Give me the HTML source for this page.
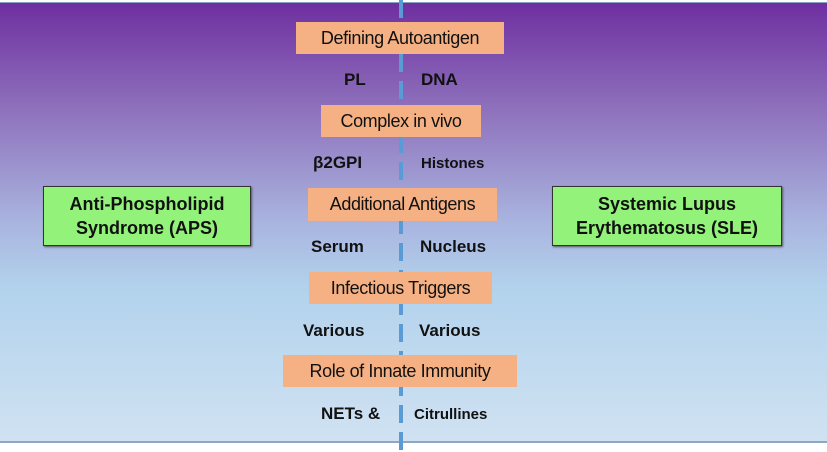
<!DOCTYPE html>
<html><head><style>
body{margin:0;width:827px;height:452px;background:#fff;position:relative;overflow:hidden;font-family:"Liberation Sans",sans-serif}
#bg{position:absolute;left:0;top:2px;width:827px;height:438px;background:linear-gradient(#6e2fa0 0%,#8f73bd 25%,#a9b4df 50%,#b2d2ec 65%,#d0e2f2 100%);border-top:1px solid #8aa0c0;border-bottom:2px solid #8fa6c4}
.o{position:absolute;z-index:2;background:#f5b183;color:#111;font-size:18px;display:flex;align-items:center;justify-content:center;letter-spacing:-0.4px}
.g{position:absolute;background:#92f27a;border:1px solid #333;box-shadow:1px 1px 2px #555;font-weight:bold;font-size:18px;text-align:center;line-height:24px;display:flex;align-items:center;justify-content:center;color:#111}
.t{position:absolute;font-weight:bold;color:#111;font-size:17px}
.s{font-size:15px}
</style></head><body>
<div id="bg"></div>
<svg style="position:absolute;left:0;top:0;z-index:1" width="827" height="452"><line x1="401" y1="0" x2="401" y2="452" stroke="#5b9bd5" stroke-width="4" stroke-dasharray="18,9"/></svg>
<div class="o" style="left:296px;top:22px;width:208px;height:32px">Defining Autoantigen</div>
<div class="o" style="left:321px;top:105px;width:160px;height:32px">Complex in vivo</div>
<div class="o" style="left:308px;top:188px;width:189px;height:33px">Additional Antigens</div>
<div class="o" style="left:309px;top:272px;width:183px;height:32px">Infectious Triggers</div>
<div class="o" style="left:283px;top:355px;width:234px;height:32px">Role of Innate Immunity</div>
<div class="g" style="left:43px;top:186px;width:206px;height:58px">Anti-Phospholipid<br>Syndrome (APS)</div>
<div class="g" style="left:552px;top:186px;width:228px;height:58px">Systemic Lupus<br>Erythematosus (SLE)</div>
<div class="t" style="left:344px;top:70px">PL</div>
<div class="t" style="left:421px;top:70px">DNA</div>
<div class="t" style="left:313px;top:153px">β2GPI</div>
<div class="t s" style="left:421px;top:155px">Histones</div>
<div class="t" style="left:311px;top:237px">Serum</div>
<div class="t" style="left:420px;top:237px">Nucleus</div>
<div class="t" style="left:303px;top:321px">Various</div>
<div class="t" style="left:419px;top:321px">Various</div>
<div class="t" style="left:321px;top:404px">NETs &amp;</div>
<div class="t s" style="left:414px;top:406px">Citrullines</div>
</body></html>
